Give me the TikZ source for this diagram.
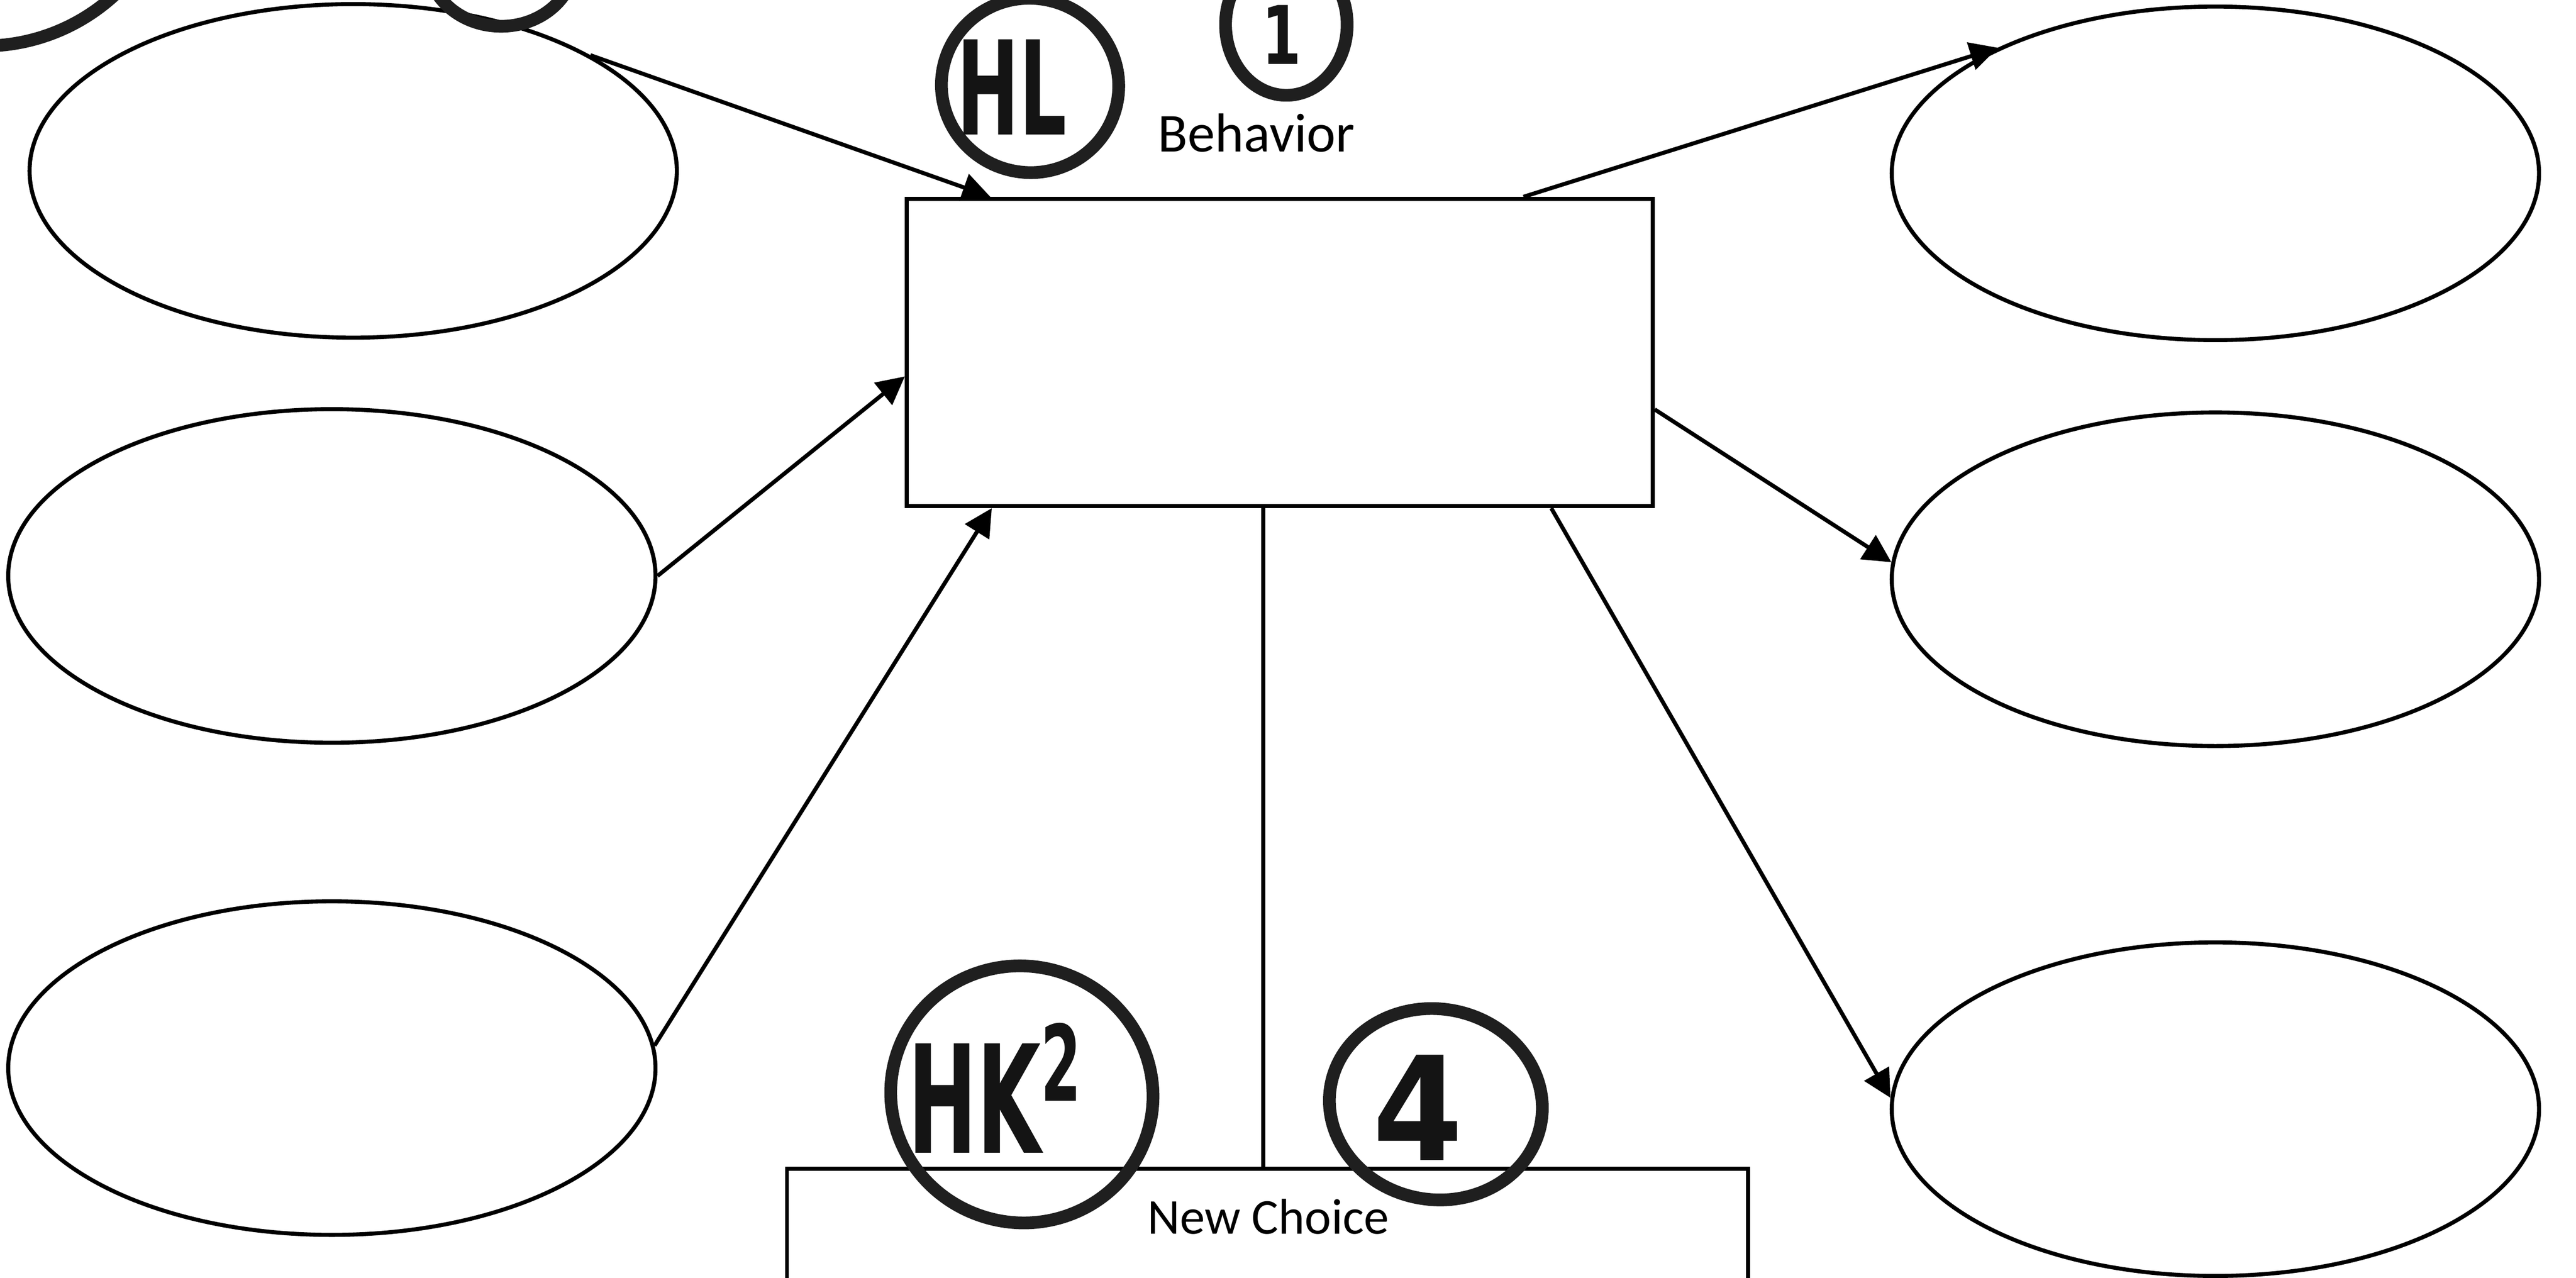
\documentclass[tikz,border=0pt]{standalone}
\usepackage{fontspec}
\setmainfont{Carlito}
\newfontfamily\handfont{DejaVu Sans}
\usetikzlibrary{arrows.meta,calc,positioning,shapes}

\begin{document}
\begin{tikzpicture}[x=0.1mm,y=-0.1mm]
    \tikzstyle{oval}=[ellipse,draw,line width=0.7pt,minimum width=39.4mm,%
    minimum height=20.3mm,inner sep=0pt] %
    \tikzstyle{slot}=[rectangle,draw,line width=0.7pt,inner sep=0pt] %
    \tikzstyle{lbl}=[anchor=base,inner sep=0pt] %
    \tikzstyle{link}=[line width=0.7pt,-{Triangle[length=1.7mm,width=1.7mm]}] %
    \tikzstyle{scrawl}=[ellipse,draw=black!88,line width=2.2pt,inner sep=0pt] %
    \tikzstyle{hand}=[inner sep=0pt,text=black!92] %

    \useasboundingbox (0,0) rectangle (1568,777.7);

    % causes on the left
    \node[oval] (IN1) at (215,104) {};
    \node[oval] (IN2) at (202,350.5) {};
    \node[oval] (IN3) at (202,650) {};

    % effects on the right
    \node[oval] (OUT1) at (1348.5,105.5) {};
    \node[oval] (OUT2) at (1348.5,352.5) {};
    \node[oval] (OUT3) at (1348.5,675) {};

    \node[slot,minimum width=45.4mm,minimum height=18.7mm] (BEH) at (779,214.5) {};
    \node[lbl,font=\fontsize{9.5}{11}\selectfont] (BEHT) at (764.8,92.4) {Behavior};

    \node[slot,anchor=north,minimum width=58.5mm,minimum height=20mm] (NEW) at (771.5,710) {};
    \node[lbl,font=\fontsize{8.7}{10}\selectfont] (NEWT) at (772,751) {New Choice};

    \path[link] (IN1.26) edge ($(BEH.north west)!0.114!(BEH.north east)$);
    \path[link] (IN2.east) edge ($(BEH.north west)!0.577!(BEH.south west)$);
    \path[link] (IN3.4) edge ($(BEH.south west)!0.116!(BEH.south east)$);

    \path[link] ($(BEH.north west)!0.825!(BEH.north east)$) edge (OUT1.150);
    \path[link] ($(BEH.north east)!0.683!(BEH.south east)$) edge (OUT2.177);
    \path[link] ($(BEH.south west)!0.862!(BEH.south east)$) edge (OUT3.178);

    \coordinate (STEM) at ($(BEH.south west)!0.478!(BEH.south east)$);
    \draw[line width=0.7pt] (STEM) -- (STEM |- NEW.north);

    % hand marks
    \node[scrawl,minimum width=23.6mm,minimum height=23.6mm] (TL1) at (-10,-90) {};
    \node[scrawl,minimum width=9mm,minimum height=8mm] (TL2) at (305,-24) {};
    \node[scrawl,rotate=-12,minimum width=10.8mm,minimum height=10.6mm] (HLC) at (627,52) {};
    \node[hand,font=\handfont\bfseries\fontsize{22.6}{24}\selectfont] (HLT) at (616,53)
      {\scalebox{0.57}[1]{HL}};
    \node[scrawl,minimum width=7.4mm,minimum height=8.6mm] (ONEC) at (783,15) {};
    \node[hand,font=\handfont\bfseries\fontsize{14}{16}\selectfont] (ONET) at (780,21)
      {\scalebox{0.7}[1]{1}};
    \node[scrawl,rotate=-18,minimum width=16mm,minimum height=15.6mm] (HKC) at (622,666) {};
    \node[hand,font=\handfont\bfseries\fontsize{26}{28}\selectfont] (HKT) at (606,662)
      {\scalebox{0.55}[1]{HK\textsuperscript{2}}};
    \node[scrawl,rotate=-10,minimum width=13mm,minimum height=11.6mm] (FOURC) at (874,672) {};
    \node[hand,font=\handfont\bfseries\fontsize{25}{27}\selectfont] (FOURT) at (863,674)
      {\scalebox{0.9}[1]{4}};
\end{tikzpicture}
\end{document}
